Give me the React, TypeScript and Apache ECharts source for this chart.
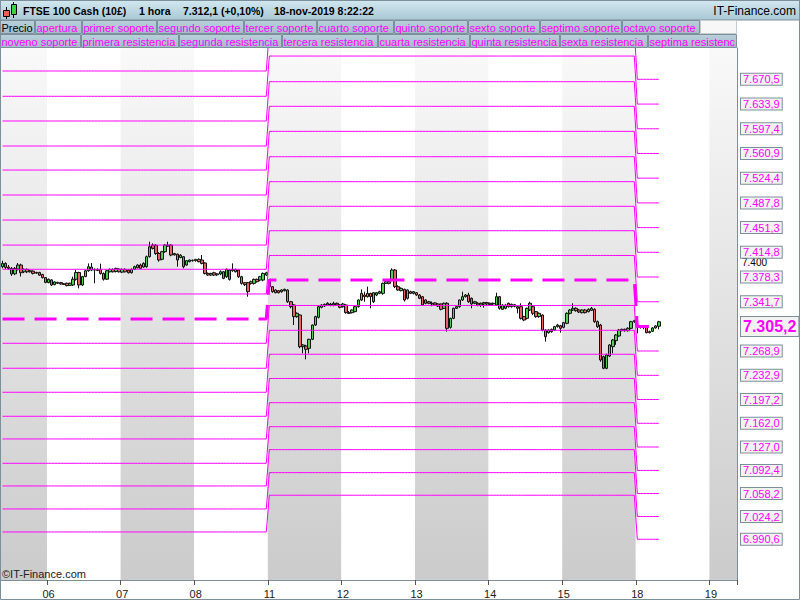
import React, { useEffect, useRef } from 'react';
import * as echarts from 'echarts';

// ---------- data ----------
const dayLabels = ['05', '06', '07', '08', '11', '12', '13', '14', '15', '18', '19'];
const slotsPerDay = [15, 24, 24, 24, 24, 24, 24, 24, 24, 24, 9];
const periodOfDay = [0, 0, 0, 0, 1, 1, 1, 1, 1, 2, 2];

// hourly candles: [open, close, low, high]
const candles: number[][] = [
  // 05
  [7393.5, 7398.4, 7391.0, 7402.4], [7398.4, 7392.5, 7390.0, 7400.0], [7393.0, 7391.0, 7389.0, 7396.0],
  [7391.0, 7382.7, 7380.0, 7393.0], [7383.0, 7391.0, 7381.0, 7393.0], [7390.0, 7396.0, 7388.0, 7399.0],
  [7396.0, 7384.6, 7379.0, 7398.0], [7386.0, 7389.5, 7384.0, 7391.0], [7389.5, 7386.0, 7384.0, 7391.0],
  [7386.0, 7387.5, 7385.0, 7389.0], [7387.0, 7383.6, 7382.0, 7388.0], [7384.0, 7385.0, 7383.0, 7386.0],
  [7385.0, 7381.0, 7380.0, 7386.0], [7382.0, 7377.5, 7376.0, 7383.0], [7377.5, 7370.3, 7369.0, 7378.0],
  // 06
  [7370.0, 7375.0, 7369.0, 7376.0], [7374.0, 7366.5, 7365.0, 7375.0], [7367.0, 7371.0, 7366.0, 7372.0],
  [7370.5, 7369.0, 7368.0, 7371.0], [7370.0, 7368.0, 7367.0, 7371.0], [7368.0, 7367.5, 7366.5, 7369.0],
  [7369.0, 7365.5, 7364.5, 7370.0], [7366.0, 7369.0, 7365.0, 7370.0], [7366.5, 7375.0, 7365.0, 7378.7],
  [7375.0, 7385.0, 7373.0, 7389.0], [7385.0, 7366.5, 7361.5, 7386.0], [7366.5, 7379.0, 7365.0, 7380.0],
  [7379.0, 7387.5, 7378.0, 7389.0], [7387.5, 7393.5, 7386.0, 7398.4], [7393.0, 7388.5, 7387.0, 7399.0],
  [7388.5, 7389.5, 7369.0, 7391.0], [7388.0, 7389.5, 7387.0, 7391.0], [7389.5, 7383.5, 7382.0, 7398.0],
  [7383.5, 7375.0, 7373.0, 7385.0], [7375.0, 7387.5, 7374.0, 7389.0], [7386.0, 7389.5, 7385.0, 7391.0],
  [7389.5, 7386.0, 7385.0, 7391.0], [7386.5, 7391.0, 7385.0, 7392.0], [7390.0, 7386.0, 7385.0, 7391.0],
  // 07
  [7385.5, 7389.5, 7384.0, 7391.0], [7389.5, 7386.0, 7385.0, 7391.0], [7388.5, 7384.6, 7383.5, 7390.0],
  [7384.6, 7389.6, 7383.5, 7391.0], [7389.6, 7393.5, 7388.5, 7395.0], [7392.0, 7396.0, 7391.0, 7397.0],
  [7396.0, 7391.0, 7390.0, 7398.0], [7393.0, 7398.4, 7392.0, 7400.0], [7393.5, 7408.3, 7392.0, 7410.0],
  [7408.3, 7423.0, 7407.0, 7430.5], [7425.5, 7420.6, 7419.0, 7428.0], [7425.0, 7413.0, 7411.0, 7427.0],
  [7413.0, 7403.4, 7400.9, 7415.0], [7404.5, 7415.7, 7403.0, 7417.0], [7415.7, 7425.5, 7414.0, 7427.0],
  [7424.0, 7425.5, 7423.0, 7430.5], [7425.5, 7410.7, 7409.0, 7427.0], [7411.0, 7413.0, 7410.0, 7414.0],
  [7412.0, 7403.4, 7393.5, 7413.0], [7407.0, 7410.5, 7406.0, 7412.0], [7408.3, 7393.5, 7391.0, 7409.0],
  [7396.0, 7402.4, 7395.0, 7403.0], [7401.0, 7403.4, 7400.0, 7404.0], [7403.0, 7402.4, 7401.0, 7404.0],
  // 08
  [7402.4, 7404.4, 7401.0, 7405.0], [7404.4, 7400.9, 7400.0, 7405.8], [7403.4, 7398.4, 7397.0, 7410.7],
  [7399.0, 7383.6, 7382.0, 7400.0], [7383.6, 7381.2, 7380.0, 7385.0], [7381.2, 7383.6, 7380.0, 7384.5],
  [7384.6, 7381.2, 7380.0, 7386.0], [7381.5, 7383.0, 7380.0, 7384.0], [7382.7, 7386.1, 7381.0, 7388.0],
  [7386.1, 7376.3, 7375.0, 7387.0], [7378.7, 7389.6, 7377.0, 7391.0], [7388.6, 7374.8, 7373.0, 7390.0],
  [7387.6, 7389.6, 7386.0, 7398.4], [7389.6, 7386.1, 7385.0, 7390.5], [7388.6, 7378.7, 7377.0, 7389.0],
  [7378.7, 7368.9, 7367.0, 7380.0], [7369.9, 7367.0, 7365.0, 7371.0], [7369.9, 7356.6, 7349.1, 7371.0],
  [7368.9, 7371.3, 7367.0, 7373.0], [7368.9, 7374.8, 7367.0, 7376.0], [7374.8, 7371.3, 7370.0, 7376.0],
  [7373.8, 7378.7, 7372.0, 7380.0], [7373.8, 7383.6, 7372.0, 7385.0], [7381.2, 7384.6, 7380.0, 7386.0],
  // 11
  [7371.4, 7364.0, 7359.0, 7373.0], [7364.0, 7356.6, 7355.0, 7365.0], [7355.1, 7359.1, 7354.0, 7360.0],
  [7358.1, 7355.1, 7354.0, 7359.0], [7356.6, 7359.1, 7355.0, 7360.0], [7358.1, 7360.1, 7357.0, 7361.0],
  [7359.1, 7341.8, 7340.0, 7360.0], [7341.8, 7334.4, 7332.0, 7343.0], [7336.9, 7319.7, 7307.3, 7338.0],
  [7319.7, 7324.6, 7318.0, 7326.0], [7322.1, 7275.3, 7273.0, 7323.0], [7275.3, 7277.8, 7265.5, 7279.0],
  [7276.3, 7271.4, 7256.6, 7278.0], [7272.9, 7286.2, 7265.5, 7287.0], [7286.2, 7307.3, 7285.0, 7308.0],
  [7307.3, 7319.7, 7306.0, 7321.0], [7318.7, 7334.4, 7317.0, 7336.0], [7333.5, 7336.9, 7332.0, 7338.0],
  [7335.4, 7337.9, 7334.0, 7339.0], [7336.9, 7339.4, 7336.0, 7341.0], [7338.4, 7336.9, 7335.0, 7340.0],
  [7336.9, 7339.4, 7335.0, 7341.8], [7339.4, 7336.9, 7335.5, 7340.5], [7336.9, 7333.5, 7332.0, 7338.0],
  // 12
  [7334.4, 7338.4, 7333.0, 7340.0], [7336.9, 7325.6, 7324.0, 7338.0], [7325.6, 7324.6, 7323.5, 7328.0],
  [7325.6, 7329.5, 7324.5, 7330.5], [7327.1, 7334.4, 7326.0, 7335.0], [7334.4, 7344.3, 7333.0, 7345.0],
  [7344.3, 7354.1, 7343.0, 7360.0], [7351.7, 7349.2, 7341.8, 7356.6], [7349.2, 7354.1, 7348.0, 7364.0],
  [7354.1, 7349.2, 7332.0, 7355.0], [7341.8, 7355.1, 7340.0, 7356.0], [7351.7, 7355.1, 7350.0, 7356.0],
  [7354.1, 7356.6, 7353.0, 7358.0], [7354.1, 7368.9, 7352.0, 7370.0], [7368.9, 7371.4, 7368.0, 7373.0],
  [7371.4, 7368.9, 7367.5, 7373.0], [7373.9, 7388.6, 7372.0, 7391.1], [7388.6, 7364.0, 7362.0, 7390.0],
  [7364.0, 7359.1, 7358.0, 7366.0], [7358.1, 7361.5, 7357.0, 7363.0], [7360.1, 7344.3, 7342.0, 7361.0],
  [7346.8, 7359.1, 7345.0, 7360.0], [7356.6, 7354.1, 7353.0, 7358.0], [7354.1, 7356.6, 7352.5, 7357.5],
  // 13
  [7355.1, 7351.7, 7350.5, 7356.0], [7351.7, 7346.8, 7345.5, 7353.0], [7349.2, 7336.9, 7335.5, 7350.0],
  [7339.4, 7344.3, 7338.0, 7345.5], [7341.8, 7339.4, 7338.0, 7343.0], [7339.4, 7338.4, 7335.0, 7342.0],
  [7340.0, 7336.9, 7335.5, 7341.0], [7338.4, 7335.4, 7334.0, 7339.5], [7338.4, 7330.5, 7329.0, 7339.0],
  [7332.0, 7339.4, 7331.0, 7340.5], [7339.4, 7302.4, 7297.5, 7341.0], [7303.9, 7317.2, 7302.0, 7318.0],
  [7317.2, 7332.0, 7316.0, 7333.0], [7332.0, 7334.4, 7331.0, 7335.5], [7334.4, 7344.3, 7333.0, 7345.0],
  [7344.3, 7349.2, 7343.0, 7356.6], [7349.2, 7351.7, 7348.0, 7353.0], [7351.7, 7341.8, 7340.0, 7355.0],
  [7346.8, 7338.4, 7332.0, 7348.0], [7339.4, 7341.8, 7338.0, 7343.0], [7339.4, 7336.9, 7335.0, 7341.0],
  [7336.9, 7339.4, 7334.0, 7340.5], [7338.4, 7340.4, 7333.0, 7341.5], [7340.4, 7338.4, 7337.0, 7341.5],
  // 14
  [7339.4, 7337.4, 7336.0, 7340.5], [7338.4, 7339.4, 7337.0, 7340.5], [7336.9, 7349.2, 7335.5, 7355.1],
  [7349.2, 7332.0, 7330.0, 7350.0], [7330.5, 7336.9, 7329.5, 7338.0], [7336.9, 7332.0, 7330.5, 7338.0],
  [7339.4, 7334.4, 7333.0, 7340.5], [7334.4, 7337.9, 7333.0, 7339.0], [7337.4, 7334.9, 7333.5, 7338.5],
  [7334.4, 7332.0, 7324.6, 7335.5], [7334.4, 7317.2, 7315.5, 7339.4], [7319.7, 7314.7, 7313.0, 7321.0],
  [7317.2, 7332.0, 7315.5, 7333.0], [7329.5, 7339.4, 7328.0, 7341.8], [7334.4, 7324.6, 7322.0, 7336.0],
  [7327.1, 7319.7, 7318.0, 7328.0], [7319.7, 7324.6, 7318.0, 7326.0], [7322.1, 7299.9, 7298.0, 7323.0],
  [7299.9, 7290.1, 7282.7, 7301.0], [7296.0, 7299.9, 7294.5, 7301.0], [7300.9, 7297.5, 7296.0, 7302.0],
  [7299.9, 7304.9, 7298.5, 7306.0], [7304.9, 7307.3, 7303.5, 7309.0], [7306.3, 7302.4, 7296.0, 7307.5],
  // 15
  [7303.9, 7310.8, 7302.5, 7312.0], [7309.8, 7324.6, 7308.5, 7326.0], [7324.6, 7329.5, 7323.0, 7331.0],
  [7329.5, 7332.0, 7328.0, 7339.4], [7332.0, 7328.5, 7327.0, 7333.5], [7329.5, 7326.6, 7325.0, 7331.0],
  [7325.6, 7329.5, 7324.5, 7330.5], [7329.5, 7325.6, 7324.5, 7331.0], [7327.1, 7330.5, 7326.0, 7332.0],
  [7329.0, 7332.0, 7328.0, 7334.0], [7330.5, 7312.3, 7310.5, 7332.0], [7312.3, 7304.9, 7303.0, 7314.0],
  [7307.3, 7255.6, 7253.0, 7309.0], [7260.5, 7243.3, 7242.0, 7262.0], [7243.3, 7263.0, 7242.0, 7265.0],
  [7261.5, 7277.8, 7260.0, 7279.0], [7275.3, 7285.2, 7265.5, 7286.5], [7284.2, 7292.6, 7278.0, 7294.0],
  [7291.1, 7299.9, 7290.0, 7301.5], [7299.0, 7300.9, 7298.0, 7302.0], [7300.9, 7299.0, 7297.5, 7302.0],
  [7299.0, 7302.4, 7297.5, 7304.0], [7302.4, 7312.3, 7301.0, 7313.5], [7312.3, 7313.8, 7310.5, 7315.0],
  // 18
  [7306.0, 7304.0, 7295.0, 7308.0], [7304.0, 7305.5, 7302.0, 7307.0], [7305.5, 7303.5, 7301.0, 7306.5],
  [7303.5, 7296.0, 7295.0, 7304.5], [7296.0, 7297.5, 7295.0, 7299.0], [7298.0, 7303.0, 7297.0, 7304.0],
  [7303.0, 7306.0, 7302.0, 7307.0], [7305.5, 7312.1, 7301.0, 7313.5],
];

// weekly pivot levels, one entry per period (week of 04-nov, week of 11-nov, week of 18-nov)
const aperturaLevels = [7316.2, 7373.9, 7305.2];
const resistencias: number[][] = [
  [7353.2, 7389.7, 7425.5, 7462.5, 7499.5, 7536.4, 7571.9, 7608.9, 7645.4, 7682.8],
  [7410.1, 7446.7, 7482.8, 7519.2, 7556.1, 7593.6, 7630.6, 7667.0, 7704.9, 7743.0],
  [7341.7, 7378.3, 7414.8, 7451.3, 7487.8, 7524.4, 7560.9, 7597.4, 7633.9, 7670.5],
];
const soportes: number[][] = [
  [7280.3, 7243.4, 7207.9, 7172.4, 7138.9, 7102.9, 7069.4, 7035.4, 7001.4],
  [7336.2, 7299.5, 7264.1, 7228.3, 7192.5, 7157.0, 7123.1, 7089.1, 7055.7],
  [7268.9, 7232.9, 7197.2, 7162.0, 7127.0, 7092.4, 7058.2, 7024.2, 6990.6],
];
const soporteNames = ['primer soporte', 'segundo soporte', 'tercer soporte', 'cuarto soporte', 'quinto soporte',
  'sexto soporte', 'septimo soporte', 'octavo soporte', 'noveno soporte'];
const resistenciaNames = ['primera resistencia', 'segunda resistencia', 'tercera resistencia', 'cuarta resistencia',
  'quinta resistencia', 'sexta resistencia', 'septima resistencia', 'octava resistencia', 'novena resistencia',
  'decima resistencia'];
const priceName = 'Precio';
const aperturaName = 'apertura';

const yTickLabels = [7400];
const yMin = 6930.4;
const yMax = 7716.8;

const headerTexts = ['FTSE 100 Cash (10£)', '1 hora', '7.312,1 (+0,10%)', '18-nov-2019 8:22:22'];
const brand = 'IT-Finance.com';
const copyright = '©IT-Finance.com';

// ---------- layout / style ----------
const FONT = '"Liberation Sans", Arial, Helvetica, sans-serif';
const MAGENTA = '#ff00ff';
const FRAME = '#7d8f9a';
const headerTextX = [23, 139, 183, 274];
const legendRow1Starts = [0, 35, 82, 157, 244, 317, 394, 468, 540, 622, 700];
const legendRow2Starts = [0, 81, 179, 282, 378, 470, 560, 648, 737];

function fmtEs(v: number, dec: number): string {
  const s = v.toFixed(dec);
  const [i, f] = s.split('.');
  const ii = i.replace(/\B(?=(\d{3})+(?!\d))/g, '.');
  return f ? ii + ',' + f : ii;
}

export default function App() {
  const ref = useRef<HTMLDivElement>(null);

  useEffect(() => {
    document.body.style.margin = '0';
    const chart = echarts.init(ref.current as HTMLDivElement, null, { renderer: 'svg' });

    const cats: string[] = [];
    const slotDay: number[] = [];
    const dayStart = new Set<number>();
    dayLabels.forEach((d, di) => {
      dayStart.add(cats.length);
      for (let k = 0; k < slotsPerDay[di]; k++) {
        cats.push(d + '-' + k);
        slotDay.push(di);
      }
    });
    const n = candles.length;
    const periodData = (perPeriod: number[]) =>
      Array.from({ length: n }, (_, s) => perPeriod[periodOfDay[slotDay[s]]]);

    const levelSeries: any[] = [];
    levelSeries.push({
      type: 'line', name: aperturaName, data: periodData(aperturaLevels),
      symbol: 'none', silent: true, z: 4,
      lineStyle: { color: MAGENTA, width: 3, type: [22, 10] },
    });
    soporteNames.forEach((nm, k) => {
      levelSeries.push({
        type: 'line', name: nm, data: periodData(soportes.map((p) => p[k])),
        symbol: 'none', silent: true, z: 3, lineStyle: { color: MAGENTA, width: 1 },
      });
    });
    resistenciaNames.forEach((nm, k) => {
      levelSeries.push({
        type: 'line', name: nm, data: periodData(resistencias.map((p) => p[k])),
        symbol: 'none', silent: true, z: 3, lineStyle: { color: MAGENTA, width: 1 },
      });
    });

    const last = aperturaLevels.length - 1;
    const hiddenLine = { opacity: 0, width: 0, type: 'solid', color: '#ffffff' };
    const axisLabelBox = {
      show: true, position: 'end', distance: 4, color: MAGENTA, fontFamily: FONT, opacity: 1,
      backgroundColor: '#f3f3f3', borderColor: FRAME, borderWidth: 1,
    };
    const markData: any[] = [];
    markData.push({
      yAxis: aperturaLevels[last], lineStyle: hiddenLine,
      label: { ...axisLabelBox, fontSize: 16, fontWeight: 'bold', lineHeight: 16, padding: [2, 2, 1, 2],
        formatter: fmtEs(aperturaLevels[last], 1) },
    });
    [...resistencias[last], ...soportes[last]].forEach((v) => {
      markData.push({
        yAxis: v, lineStyle: hiddenLine,
        label: { ...axisLabelBox, fontSize: 11, lineHeight: 10, padding: [1, 2, 0, 2], formatter: fmtEs(v, 1) },
      });
    });

    const grayGrad = new echarts.graphic.LinearGradient(0, 0, 0, 1, [
      { offset: 0, color: '#f9f9f9' }, { offset: 1, color: '#cbcbcb' },
    ]);

    // ---------- graphic: header, legend, copyright, frame ----------
    const g: any[] = [];
    g.push({
      type: 'rect', shape: { x: 0, y: 0, width: 800, height: 20 }, z: 100,
      style: { fill: new echarts.graphic.LinearGradient(0, 0, 0, 1, [
        { offset: 0, color: '#d2e8f0' }, { offset: 1, color: '#a9c8d5' }]), stroke: FRAME, lineWidth: 1 },
    });
    // candle icon
    g.push({ type: 'line', shape: { x1: 6.5, y1: 7, x2: 6.5, y2: 19 }, style: { stroke: '#000', lineWidth: 1 }, z: 101 });
    g.push({ type: 'rect', shape: { x: 3.5, y: 10.5, width: 6, height: 6 }, style: { fill: '#e8605e', stroke: '#000', lineWidth: 1 }, z: 102 });
    g.push({ type: 'line', shape: { x1: 13.5, y1: 2, x2: 13.5, y2: 18 }, style: { stroke: '#000', lineWidth: 1 }, z: 101 });
    g.push({ type: 'rect', shape: { x: 11.5, y: 4.5, width: 5, height: 10 }, style: { fill: '#3fcf3f', stroke: '#000', lineWidth: 1 }, z: 102 });
    headerTexts.forEach((t, i) => {
      g.push({
        type: 'text', x: headerTextX[i], y: 11, z: 102,
        style: { text: t, fill: '#000', fontSize: 10.5, fontWeight: 'bold', fontFamily: FONT, verticalAlign: 'middle', align: 'left' },
      });
    });
    g.push({
      type: 'text', x: 796, y: 11, z: 102,
      style: { text: brand, fill: '#000', fontSize: 12, fontFamily: FONT, verticalAlign: 'middle', align: 'right' },
    });

    const legendFill = () => new echarts.graphic.LinearGradient(0, 0, 0, 1, [
      { offset: 0, color: '#bad1db' }, { offset: 1, color: '#a2bcc8' }]);
    const row1Names = [priceName, aperturaName, ...soporteNames.slice(0, 8)];
    const row2Names = [soporteNames[8], ...resistenciaNames];
    const drawRow = (names: string[], starts: number[], y: number) => {
      for (let i = 0; i < starts.length - 1 && i < names.length; i++) {
        const x0 = starts[i];
        const w = starts[i + 1] - x0 - 1;
        g.push({
          type: 'rect', shape: { x: x0 + 0.5, y: y + 0.5, width: w, height: 13 }, z: 100,
          style: { fill: legendFill(), stroke: FRAME, lineWidth: 1 },
        });
        g.push({
          type: 'text', x: x0 + 1.5, y: y + 7.5, z: 101,
          style: { text: names[i], fill: names[i] === priceName ? '#000' : MAGENTA, fontSize: 11, fontFamily: FONT,
            verticalAlign: 'middle', align: 'left', width: w, overflow: 'truncate', ellipsis: '' },
        });
      }
    };
    drawRow(row1Names, legendRow1Starts, 20);
    // empty cell after the first row
    g.push({
      type: 'rect', shape: { x: 700.5, y: 20.5, width: 36, height: 13 }, z: 100,
      style: { fill: '#f7f7f7', stroke: '#c5cdd1', lineWidth: 1 },
    });
    drawRow(row2Names, legendRow2Starts, 34);

    g.push({
      type: 'text', x: 2, y: 574, z: 50,
      style: { text: copyright, fill: '#222', fontSize: 11, fontFamily: FONT, verticalAlign: 'middle', align: 'left' },
    });
    g.push({
      type: 'rect', shape: { x: 0.5, y: 0.5, width: 799, height: 599 }, z: 110, silent: true,
      style: { fill: 'none', stroke: FRAME, lineWidth: 1 },
    });

    chart.setOption({
      animation: false,
      backgroundColor: '#ffffff',
      grid: { left: 1, right: 63, top: 48, bottom: 20, containLabel: false },
      xAxis: {
        type: 'category', data: cats, boundaryGap: true,
        axisLine: { show: true, lineStyle: { color: FRAME, width: 1 } },
        axisTick: { show: true, interval: (i: number) => i > 0 && dayStart.has(i), length: 5, lineStyle: { color: '#555' } },
        axisLabel: {
          interval: (i: number) => i > 0 && dayStart.has(i),
          formatter: (v: string) => v.split('-')[0],
          color: '#222', fontSize: 11, fontFamily: FONT, margin: 8,
        },
        splitLine: { show: false },
        splitArea: { show: true, interval: (i: number) => dayStart.has(i), areaStyle: { color: [grayGrad, '#ffffff'] } },
      },
      yAxis: {
        type: 'value', position: 'right', min: yMin, max: yMax, scale: true,
        axisLine: { show: true, lineStyle: { color: FRAME, width: 1 } },
        axisTick: { show: false },
        splitLine: { show: false },
        axisLabel: {
          formatter: (v: number) => (yTickLabels.indexOf(v) >= 0 ? fmtEs(v, 0) : ''),
          color: '#000', fontSize: 10, lineHeight: 10, fontFamily: FONT, margin: 5, padding: [4, 0, 0, 0],
        },
      },
      series: [
        {
          type: 'candlestick', name: priceName, data: candles, barWidth: 3, z: 2,
          itemStyle: { color: '#4fd34f', color0: '#e86464', borderColor: '#111', borderColor0: '#111', borderWidth: 1 },
          markLine: {
            silent: true, symbol: ['none', 'none'], animation: false, z: 10,
            lineStyle: hiddenLine,
            emphasis: { disabled: true },
            data: markData,
          },
        },
        ...levelSeries,
      ],
      graphic: { elements: g },
    });

    return () => chart.dispose();
  }, []);

  return <div ref={ref} style={{ position: 'absolute', left: 0, top: 0, width: 800, height: 600 }} />;
}
